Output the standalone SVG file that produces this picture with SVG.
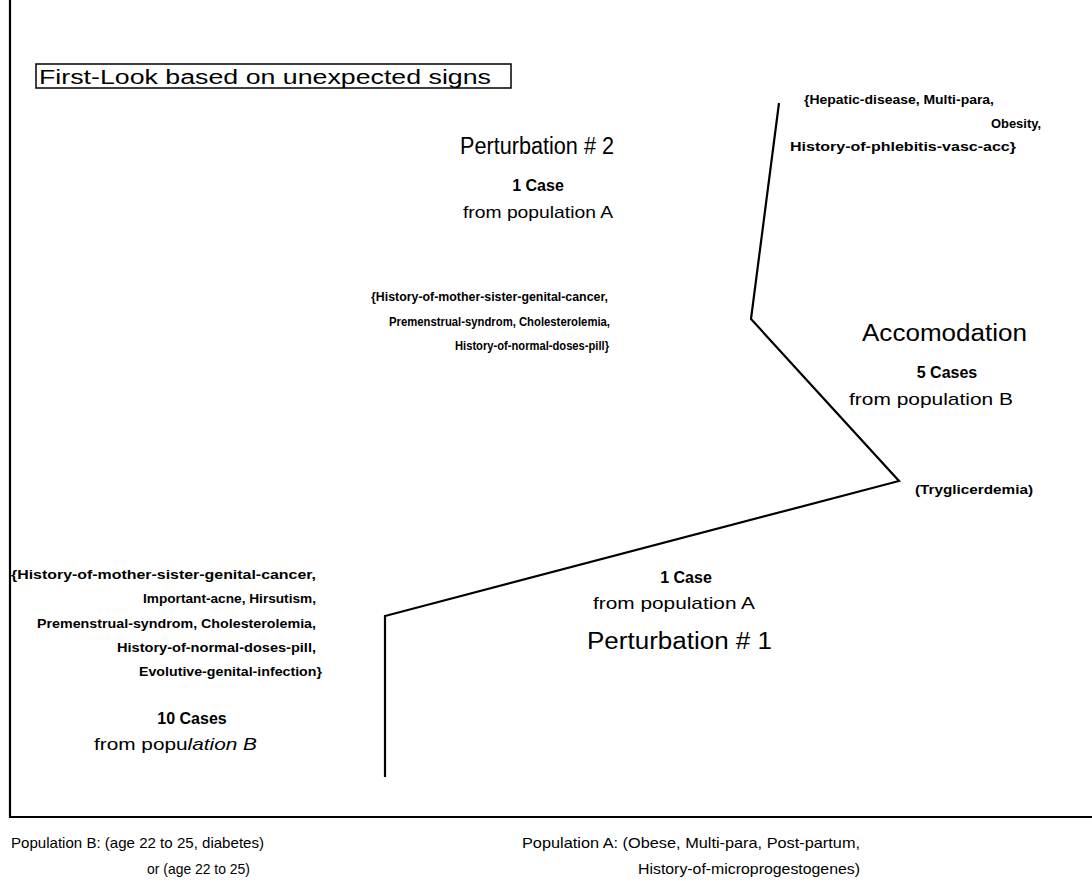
<svg xmlns="http://www.w3.org/2000/svg" width="1092" height="882" viewBox="0 0 1092 882">
<style>
text{font-family:"Liberation Sans",Arial,sans-serif;fill:#000}
.sm{font-size:12px;font-weight:bold}
.md{font-size:16px;font-weight:bold}
.fp{font-size:17px}
.lg{font-size:23px}
.ft{font-size:15px}
.ln{fill:none;stroke:#000;stroke-width:2.2;stroke-linejoin:miter}
</style>
<rect width="1092" height="882" fill="#fff"/>
<g id="frame">
<polyline class="ln" points="10,0 10,817 1092,817"/>
</g>
<g id="title">
<rect x="36" y="64" width="475" height="24" fill="none" stroke="#000" stroke-width="1.5"/>
<text x="39" y="84" font-size="20" textLength="452" lengthAdjust="spacingAndGlyphs">First-Look based on unexpected signs</text>
</g>
<g id="connectors">
<polyline class="ln" points="385,777 385,616 899,481 751,319 779,103"/>
</g>
<g id="perturbation2">
<text class="lg" x="460" y="154" textLength="154" lengthAdjust="spacingAndGlyphs">Perturbation # 2</text>
<text class="md" x="538" y="191" text-anchor="middle">1 Case</text>
<text class="fp" x="538" y="218" text-anchor="middle" textLength="150" lengthAdjust="spacingAndGlyphs">from population A</text>
</g>
<g id="hepatic">
<text class="sm" x="804" y="104" textLength="190" lengthAdjust="spacingAndGlyphs">{Hepatic-disease, Multi-para,</text>
<text class="sm" x="1041" y="128" text-anchor="end" textLength="50" lengthAdjust="spacingAndGlyphs">Obesity,</text>
<text class="sm" x="790" y="151" textLength="226" lengthAdjust="spacingAndGlyphs">History-of-phlebitis-vasc-acc}</text>
</g>
<g id="history-mid">
<text class="sm" x="371" y="301" textLength="237" lengthAdjust="spacingAndGlyphs">{History-of-mother-sister-genital-cancer,</text>
<text class="sm" x="389" y="326" textLength="221" lengthAdjust="spacingAndGlyphs">Premenstrual-syndrom, Cholesterolemia,</text>
<text class="sm" x="455" y="350" textLength="154" lengthAdjust="spacingAndGlyphs">History-of-normal-doses-pill}</text>
</g>
<g id="accomodation">
<text class="lg" x="862" y="341" textLength="165" lengthAdjust="spacingAndGlyphs">Accomodation</text>
<text class="md" x="947" y="378" text-anchor="middle">5 Cases</text>
<text class="fp" x="849" y="405" textLength="164" lengthAdjust="spacingAndGlyphs">from population B</text>
</g>
<g id="tryglicerdemia">
<text class="sm" x="915" y="494" textLength="118" lengthAdjust="spacingAndGlyphs">(Tryglicerdemia)</text>
</g>
<g id="history-left">
<text class="sm" x="11" y="579" textLength="305" lengthAdjust="spacingAndGlyphs">{History-of-mother-sister-genital-cancer,</text>
<text class="sm" x="143" y="603" textLength="173" lengthAdjust="spacingAndGlyphs">Important-acne, Hirsutism,</text>
<text class="sm" x="37" y="628" textLength="279" lengthAdjust="spacingAndGlyphs">Premenstrual-syndrom, Cholesterolemia,</text>
<text class="sm" x="117" y="652" textLength="199" lengthAdjust="spacingAndGlyphs">History-of-normal-doses-pill,</text>
<text class="sm" x="139" y="676" textLength="183" lengthAdjust="spacingAndGlyphs">Evolutive-genital-infection}</text>
</g>
<g id="cases10">
<text class="md" x="192" y="724" text-anchor="middle">10 Cases</text>
<text class="fp" x="94" y="750" textLength="163" lengthAdjust="spacingAndGlyphs">from popu<tspan font-style="italic">lation B</tspan></text>
</g>
<g id="perturbation1">
<text class="md" x="686" y="583" text-anchor="middle">1 Case</text>
<text class="fp" x="593" y="609" textLength="162" lengthAdjust="spacingAndGlyphs">from population A</text>
<text class="lg" x="587" y="649" textLength="185" lengthAdjust="spacingAndGlyphs">Perturbation  # 1</text>
</g>
<g id="legend">
<text class="ft" x="11" y="848" textLength="253" lengthAdjust="spacingAndGlyphs">Population B: (age 22 to 25, diabetes)</text>
<text class="ft" x="147" y="874" textLength="103" lengthAdjust="spacingAndGlyphs">or (age 22 to 25)</text>
<text class="ft" x="522" y="848" textLength="338" lengthAdjust="spacingAndGlyphs">Population A: (Obese, Multi-para, Post-partum,</text>
<text class="ft" x="638" y="874" textLength="222" lengthAdjust="spacingAndGlyphs">History-of-microprogestogenes)</text>
</g>
</svg>
